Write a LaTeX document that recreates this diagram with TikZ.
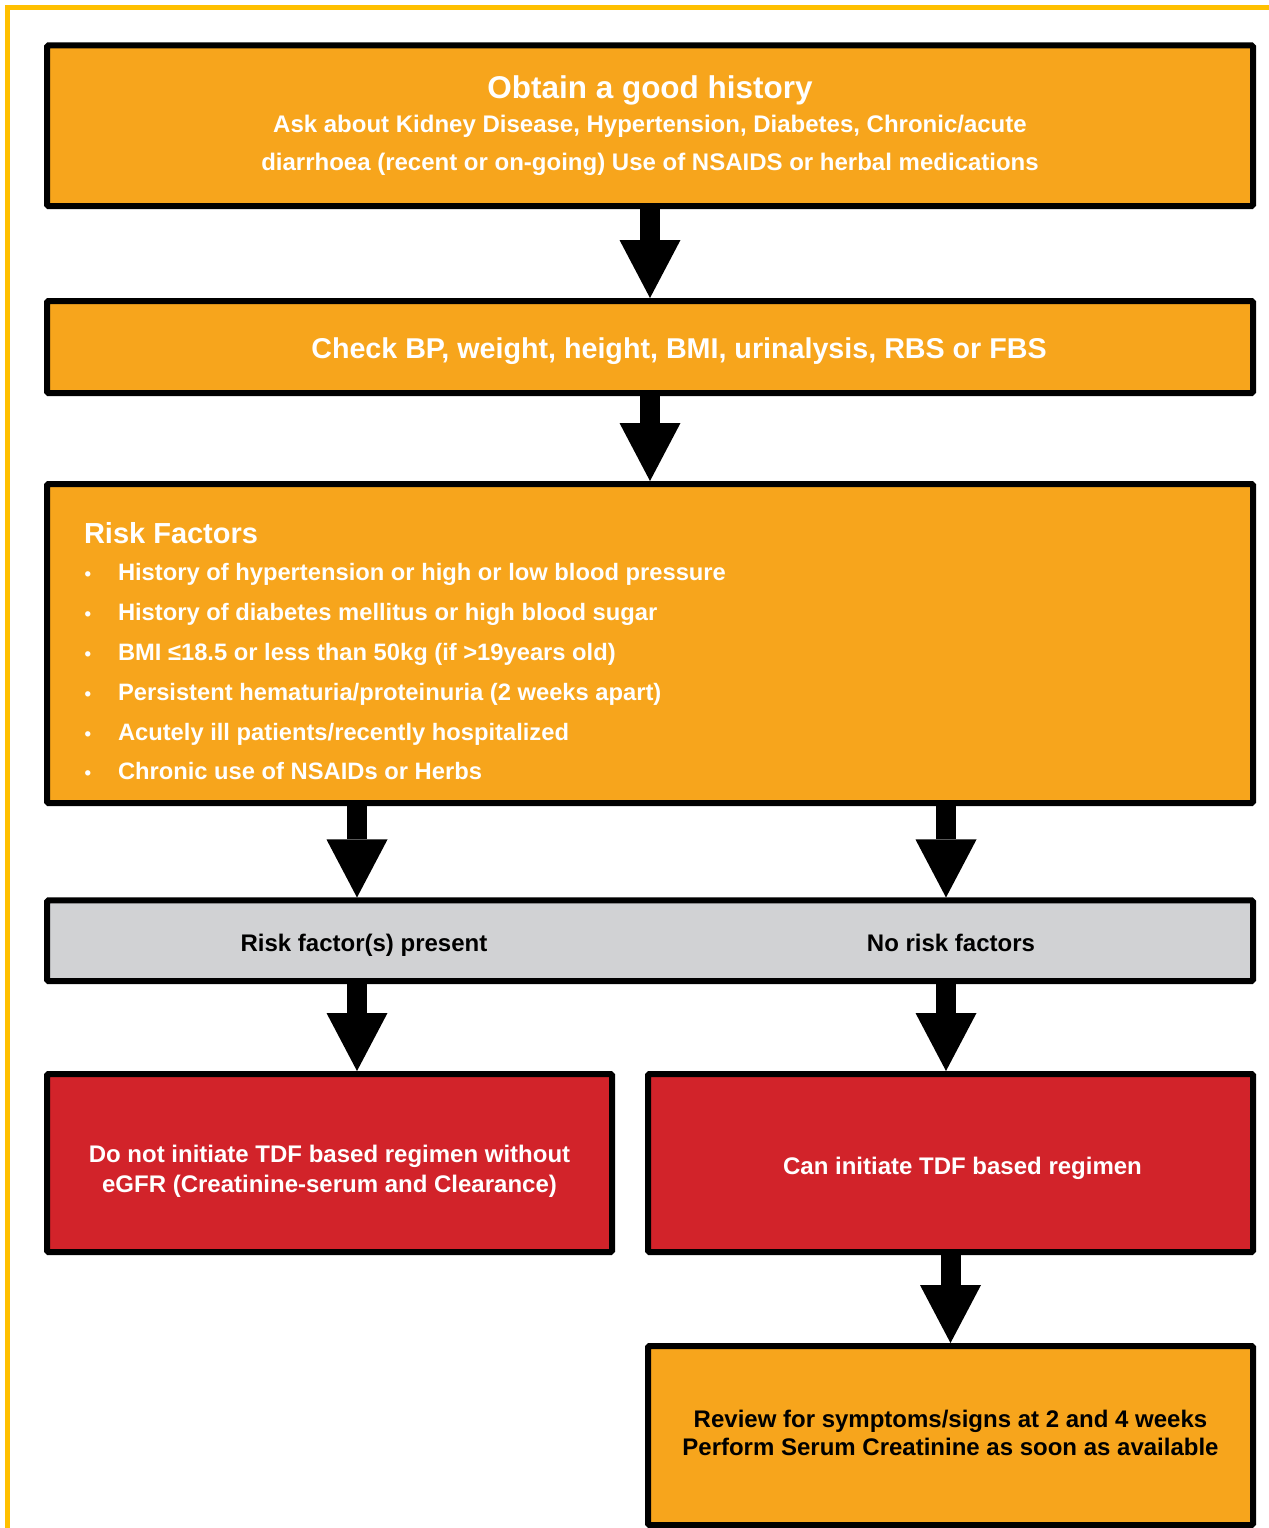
\documentclass[tikz,border=0pt]{standalone}
\usepackage{fontspec}
\setmainfont{Liberation Sans}
\usetikzlibrary{arrows.meta}
\definecolor{frameY}{HTML}{FFC000}
\definecolor{boxO}{HTML}{F7A51C}
\definecolor{boxR}{HTML}{D2232A}
\definecolor{boxG}{HTML}{D1D2D4}
\newcommand{\rfbullet}{\makebox[25.5pt][l]{\hspace{0.5pt}{\fontsize{14}{14}\selectfont •}}}
\begin{document}
\begin{tikzpicture}[x=0.75pt,y=-0.75pt,
  flowbox/.style={draw=black, line width=4.5pt, rounded corners=1pt, inner sep=0pt, font=\bfseries},
  orangebox/.style={flowbox, fill=boxO, text=white},
  redbox/.style={flowbox, fill=boxR, text=white},
  graybox/.style={flowbox, fill=boxG, text=black},
  revbox/.style={flowbox, fill=boxO, text=black},
  lbl/.style={font=\bfseries\fontsize{18}{20}\selectfont, text=black, inner sep=0pt, anchor=base},
  blockarrow/.style={draw=black, line width=15pt, -{Triangle[length=43.5pt,width=45.75pt,line width=0pt]}}
]
\useasboundingbox (0,0) rectangle (1268,1528);
\draw[frameY, line width=3.75pt] (7,1535) -- (7,7) -- (1275,7);

\node[orangebox, minimum width=904.5pt, minimum height=120.4pt, align=center,
      font=\bfseries\fontsize{18}{28.5}\selectfont] (hist) at (650,125.75)
  {{\fontsize{23.6}{28.5}\selectfont Obtain a good history}\\[-2.6pt]
   Ask about Kidney Disease, Hypertension, Diabetes, Chronic/acute\\
   diarrhoea (recent or on-going) Use of NSAIDS or herbal medications};

\node[orangebox, minimum width=904.5pt, minimum height=69pt,
      font=\bfseries\fontsize{21.5}{24}\selectfont] (check) at (650,347)
  {\raisebox{-3pt}[\height][\depth]{\hspace*{43.5pt}Check BP, weight, height, BMI, urinalysis, RBS or FBS}};

\node[orangebox, minimum width=904.5pt, minimum height=239.25pt,
      font=\bfseries\fontsize{17.8}{29.85}\selectfont] (risk) at (650,643.5)
  {\raisebox{-6pt}[\height][\depth]{\parbox[t]{849pt}{\raggedright
   {\fontsize{21.75}{27.75}\selectfont Risk Factors}\\[-2.1pt]
   \rfbullet History of hypertension or high or low blood pressure\\
   \rfbullet History of diabetes mellitus or high blood sugar\\
   \rfbullet BMI ≤18.5 or less than 50kg (if >19years old)\\
   \rfbullet Persistent hematuria/proteinuria (2 weeks apart)\\
   \rfbullet Acutely ill patients/recently hospitalized\\
   \rfbullet Chronic use of NSAIDs or Herbs}}};

\node[graybox, minimum width=904.5pt, minimum height=60.4pt] (split) at (650,940.75) {};
\node[lbl] (yes) at (364,951.5) {Risk factor(s) present};
\node[lbl] (no) at (951,951.5) {No risk factors};

\node[redbox, minimum width=423.75pt, minimum height=133.5pt,
      font=\bfseries\fontsize{18}{22.5}\selectfont] (noinit) at (329.5,1163)
  {\raisebox{-6pt}[\height][\depth]{\begin{tabular}{@{}c@{}}Do not initiate TDF based regimen without\\eGFR (Creatinine-serum and Clearance)\end{tabular}}};
\node[redbox, minimum width=453.75pt, minimum height=133.5pt,
      font=\bfseries\fontsize{18}{22.5}\selectfont] (caninit) at (950.5,1163)
  {\raisebox{-3.75pt}[\height][\depth]{\hspace*{18pt}Can initiate TDF based regimen}};

\node[revbox, minimum width=453.75pt, minimum height=134.25pt,
      font=\bfseries\fontsize{18}{21}\selectfont] (review) at (950.5,1435.5)
  {\begin{tabular}{@{}c@{}}Review for symptoms/signs at 2 and 4 weeks\\Perform Serum Creatinine as soon as available\end{tabular}};

\coordinate (L) at (357,0);
\coordinate (R) at (946,0);

\draw[blockarrow] (hist.south) -- (check.north);
\draw[blockarrow] (check.south) -- (risk.north);
\draw[blockarrow] (risk.south -| L) -- (split.north -| L);
\draw[blockarrow] (risk.south -| R) -- (split.north -| R);
\draw[blockarrow] (split.south -| L) -- (noinit.north -| L);
\draw[blockarrow] (split.south -| R) -- (caninit.north -| R);
\draw[blockarrow] (caninit.south) -- (review.north);
\end{tikzpicture}
\end{document}
